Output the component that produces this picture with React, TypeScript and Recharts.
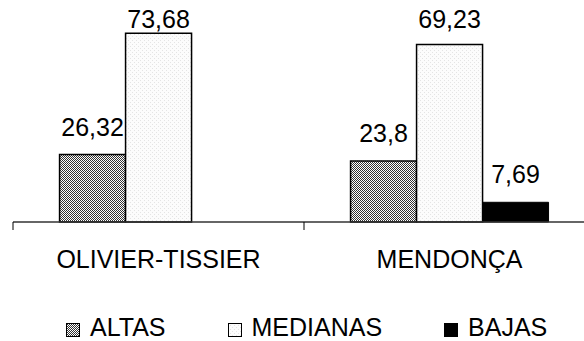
import React from 'react';
import { BarChart, Bar, XAxis, YAxis, LabelList } from 'recharts';

const categories = ['OLIVIER-TISSIER', 'MENDONÇA'];
const altas = [26.32, 23.8];
const medianas = [73.68, 69.23];
const bajas: (number | null)[] = [null, 7.69];

const seriesNames = { altas: 'ALTAS', medianas: 'MEDIANAS', bajas: 'BAJAS' };

const data = categories.map((name, i) => ({
  name,
  altas: altas[i],
  medianas: medianas[i],
  bajas: bajas[i],
}));

const FONT = '"Liberation Sans", Arial, Helvetica, sans-serif';
const FS = 25;

const fmt = (v: any) => (v == null ? '' : String(v).replace('.', ','));

// etiqueta de valor: encima de la barra, sin salirse por arriba
function ValueLabel(props: any) {
  const { x, y, width, value } = props;
  if (value == null) return null;
  const base = Math.max(y - 19, 28);
  return (
    <text x={x + width / 2} y={base} textAnchor="middle" fontSize={FS} fontFamily={FONT} fill="#000">
      {fmt(value)}
    </text>
  );
}

// tick label plus the category boundary marks (axis ticks sit between categories)
function CategoryTick(props: any) {
  const { x, y, payload, index, visibleTicksCount } = props;
  const half = payload && payload.offset ? payload.offset : 145.5;
  const axisY = y - 28;
  const isLast = index === (visibleTicksCount ?? categories.length) - 1;
  return (
    <g>
      <line x1={x - half} x2={x - half} y1={axisY} y2={axisY + 8} stroke="#000" strokeWidth={1} />
      {isLast && <line x1={x + half} x2={x + half} y1={axisY} y2={axisY + 8} stroke="#000" strokeWidth={1} />}
      <text x={x} y={y} dy="0.71em" textAnchor="middle" fontSize={FS} fontFamily={FONT} fill="#000">
        {payload.value}
      </text>
    </g>
  );
}

function Swatch({ fill }: { fill: string }) {
  return (
    <svg width={14} height={14} style={{ display: 'block', position: 'relative', top: 2 }}>
      <rect x={0.5} y={0.5} width={13} height={13} fill={fill} stroke="#000" strokeWidth={1} />
    </svg>
  );
}

export default function App() {
  const legendItems = [
    { key: 'altas', fill: 'url(#patAltas)' },
    { key: 'medianas', fill: 'url(#patMedianas)' },
    { key: 'bajas', fill: '#000' },
  ];

  return (
    <div style={{ position: 'absolute', left: 0, top: 0, width: 584, height: 341, overflow: 'hidden', background: '#fff' }}>
      <svg width={0} height={0} style={{ position: 'absolute' }}>
        <defs>
          <pattern id="patAltas" width={2} height={2} patternUnits="userSpaceOnUse">
            <rect width={2} height={2} fill="#fff" />
            <rect x={0} y={0} width={1} height={1} fill="#333" />
            <rect x={1} y={1} width={1} height={1} fill="#333" />
          </pattern>
          <pattern id="patMedianas" width={4} height={4} patternUnits="userSpaceOnUse">
            <rect width={4} height={4} fill="#fcfcfc" />
            <rect x={0} y={0} width={1} height={1} fill="#e4e4e4" />
            <rect x={2} y={2} width={1} height={1} fill="#e4e4e4" />
          </pattern>
        </defs>
      </svg>

      <BarChart
        width={600}
        height={341}
        data={data}
        margin={{ top: 17, right: 5, left: 13, bottom: 79 }}
        barCategoryGap="16%"
        barGap={0}
      >
        <XAxis
          dataKey="name"
          height={40}
          tickLine={false}
          tickSize={6}
          tickMargin={22}
          axisLine={{ stroke: '#333', strokeWidth: 1.5 }}
          tick={<CategoryTick />}
          interval={0}
        />
        <YAxis hide domain={[0, 80]} />
        <Bar dataKey="altas" name={seriesNames.altas} fill="url(#patAltas)" stroke="#000" strokeWidth={1.5} isAnimationActive={false}>
          <LabelList dataKey="altas" content={<ValueLabel />} />
        </Bar>
        <Bar dataKey="medianas" name={seriesNames.medianas} fill="url(#patMedianas)" stroke="#000" strokeWidth={1.5} isAnimationActive={false}>
          <LabelList dataKey="medianas" content={<ValueLabel />} />
        </Bar>
        <Bar dataKey="bajas" name={seriesNames.bajas} fill="#000" stroke="#000" strokeWidth={1} isAnimationActive={false}>
          <LabelList dataKey="bajas" content={<ValueLabel />} />
        </Bar>
      </BarChart>

      {/* Leyenda */}
      <div
        style={{
          position: 'absolute',
          left: 66,
          top: 315,
          display: 'flex',
          alignItems: 'center',
          fontFamily: FONT,
          fontSize: FS,
          lineHeight: '25px',
          color: '#000',
        }}
      >
        {legendItems.map((item) => (
          <div key={item.key} style={{ display: 'flex', alignItems: 'center', marginRight: 62 }}>
            <Swatch fill={item.fill} />
            <span style={{ marginLeft: 10 }}>{seriesNames[item.key as keyof typeof seriesNames]}</span>
          </div>
        ))}
      </div>
    </div>
  );
}
